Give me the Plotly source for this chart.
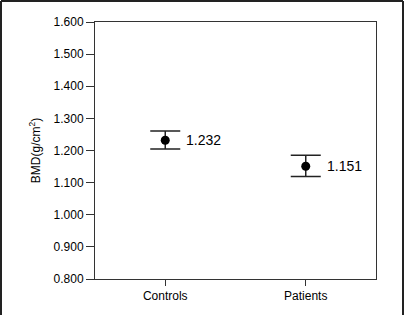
import plotly.graph_objects as go

categories = ["Controls", "Patients"]
means = [1.232, 1.151]
err_plus = [0.029, 0.034]
err_minus = [0.027, 0.032]
value_labels = ["1.232", "1.151"]
y_ticks = [0.8, 0.9, 1.0, 1.1, 1.2, 1.3, 1.4, 1.5, 1.6]
y_tick_labels = ["0.800", "0.900", "1.000", "1.100", "1.200", "1.300", "1.400", "1.500", "1.600"]

FONT = "Liberation Sans Narrow, Arial Narrow, Liberation Sans, Arial, sans-serif"
LINE = "#333333"

fig = go.Figure()
fig.add_trace(go.Scatter(
    x=categories, y=means, mode="markers",
    marker=dict(color="black", size=9),
    error_y=dict(type="data", array=err_plus, arrayminus=err_minus,
                 color="#222222", thickness=1.5, width=15, symmetric=False),
    showlegend=False, hoverinfo="skip",
))
for c, m, t in zip(categories, means, value_labels):
    fig.add_annotation(x=c, y=m, text=t, showarrow=False, xanchor="left",
                       xshift=19, font=dict(family=FONT, size=14, color="black"))

W, H = 409, 315
L, R, T, B = 95, 33, 22, 36
pw, ph = W - L - R, H - T - B

def px_x(p):
    return (p - L) / pw

def px_y(p):
    return (H - B - p) / ph

frame = dict(color="#222222", width=2)
fig.add_shape(type="line", xref="paper", yref="paper", x0=px_x(1), x1=px_x(1), y0=px_y(1), y1=px_y(316), line=frame)
fig.add_shape(type="line", xref="paper", yref="paper", x0=px_x(1), x1=px_x(403), y0=px_y(1), y1=px_y(1), line=frame)
fig.add_shape(type="line", xref="paper", yref="paper", x0=px_x(403), x1=px_x(403), y0=px_y(1), y1=px_y(316), line=frame)

fig.update_layout(
    width=W, height=H,
    margin=dict(l=L, r=R, t=T, b=B),
    paper_bgcolor="white", plot_bgcolor="white",
    font=dict(family=FONT, color="black"),
    xaxis=dict(range=[-0.5, 1.5], showgrid=False, zeroline=False,
               showline=True, mirror=True, linecolor=LINE, linewidth=1,
               ticks="outside", ticklen=6, tickcolor=LINE,
               tickfont=dict(family=FONT, size=12, color="black")),
    yaxis=dict(range=[0.8, 1.6], showgrid=False, zeroline=False,
               showline=True, mirror=True, linecolor=LINE, linewidth=1,
               ticks="outside", ticklen=8, tickcolor=LINE,
               tickvals=y_ticks, ticktext=y_tick_labels,
               tickfont=dict(family=FONT, size=12, color="black"),
               title=dict(text="BMD(g/cm<sup>2</sup>)", standoff=10,
                          font=dict(family=FONT, size=12, color="black"))),
)

fig.write_html("out.html")
